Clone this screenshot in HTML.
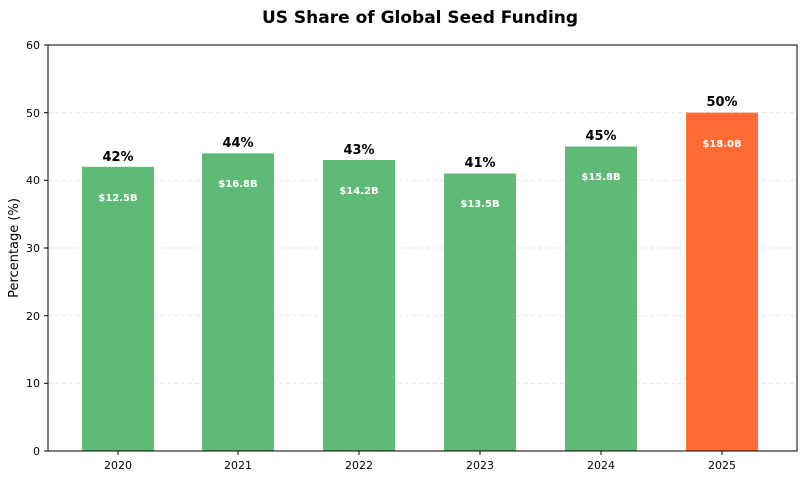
<!DOCTYPE html>
<html><head><style>body{margin:0;background:#fff}</style></head><body>
<svg width="800" height="479" xmlns="http://www.w3.org/2000/svg" font-family="DejaVu Sans, Liberation Sans, sans-serif">
<text x="420" y="23" text-anchor="middle" font-size="17" font-weight="bold">US Share of Global Seed Funding</text>
<g stroke="#ddd" stroke-dasharray="4,3" stroke-width="0.8">
<line x1="48" x2="797" y1="383.3" y2="383.3"/><line x1="48" x2="797" y1="315.7" y2="315.7"/>
<line x1="48" x2="797" y1="248" y2="248"/><line x1="48" x2="797" y1="180.3" y2="180.3"/>
<line x1="48" x2="797" y1="112.7" y2="112.7"/></g>
<g fill="#5fba77">
<rect x="82" y="166.8" width="72" height="284.2"/>
<rect x="202" y="153.3" width="72" height="297.7"/>
<rect x="323" y="160" width="72" height="291"/>
<rect x="444" y="173.5" width="72" height="277.5"/>
<rect x="565" y="146.5" width="72" height="304.5"/>
</g>
<rect x="686" y="112.7" width="72" height="338.3" fill="#ff6b35"/>
<rect x="48" y="45" width="749" height="406" fill="none" stroke="#000" stroke-width="1"/>
<g font-size="13" font-weight="bold" text-anchor="middle">
<text x="118" y="161">42%</text><text x="238" y="147">44%</text><text x="359" y="154">43%</text>
<text x="480" y="167">41%</text><text x="601" y="140">45%</text><text x="722" y="106">50%</text></g>
<g font-size="10" font-weight="bold" text-anchor="middle" fill="#fff">
<text x="118" y="201">$12.5B</text><text x="238" y="187">$16.8B</text><text x="359" y="194">$14.2B</text>
<text x="480" y="207">$13.5B</text><text x="601" y="180">$15.8B</text><text x="722" y="147">$18.0B</text></g>
<g font-size="11" text-anchor="end">
<text x="40" y="455">0</text><text x="40" y="387">10</text><text x="40" y="320">20</text>
<text x="40" y="252">30</text><text x="40" y="184">40</text><text x="40" y="117">50</text><text x="40" y="49">60</text></g>
<g stroke="#000"><line x1="44" x2="48" y1="451" y2="451"/><line x1="44" x2="48" y1="383.3" y2="383.3"/>
<line x1="44" x2="48" y1="315.7" y2="315.7"/><line x1="44" x2="48" y1="248" y2="248"/>
<line x1="44" x2="48" y1="180.3" y2="180.3"/><line x1="44" x2="48" y1="112.7" y2="112.7"/><line x1="44" x2="48" y1="45" y2="45"/>
<line x1="118" x2="118" y1="451" y2="455"/><line x1="238" x2="238" y1="451" y2="455"/><line x1="359" x2="359" y1="451" y2="455"/>
<line x1="480" x2="480" y1="451" y2="455"/><line x1="601" x2="601" y1="451" y2="455"/><line x1="722" x2="722" y1="451" y2="455"/></g>
<g font-size="11" text-anchor="middle">
<text x="118" y="469">2020</text><text x="238" y="469">2021</text><text x="359" y="469">2022</text>
<text x="480" y="469">2023</text><text x="601" y="469">2024</text><text x="722" y="469">2025</text></g>
<text transform="translate(18,248) rotate(-90)" text-anchor="middle" font-size="13">Percentage (%)</text>
</svg>
</body></html>
